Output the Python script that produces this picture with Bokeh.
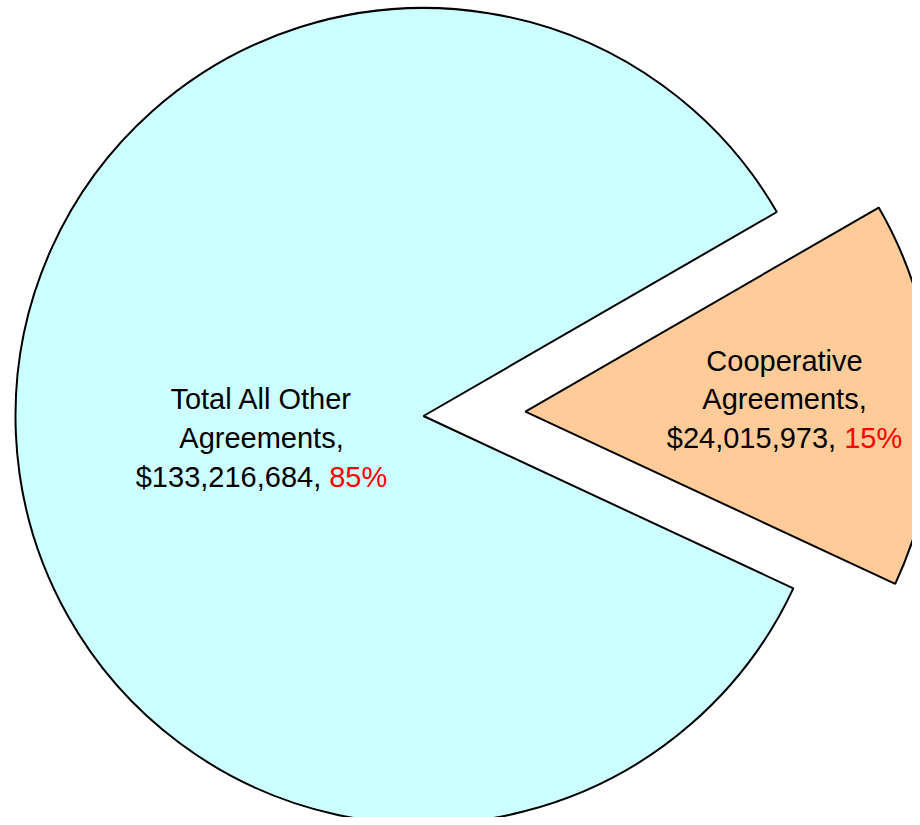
import math
from bokeh.plotting import figure
from bokeh.models import Range1d, ColumnDataSource
from bokeh.core.properties import value
from bokeh.embed import file_html
from bokeh.resources import INLINE

# ---- data ----
categories = ["Total All Other Agreements", "Cooperative Agreements"]
label_lines = [["Total All Other", "Agreements,"], ["Cooperative", "Agreements,"]]
amounts = [133216684, 24015973]
colors = ["#CCFFFF", "#FFCC99"]

# ---- layout ----
W, H = 912, 817
R = 408
CENTER = (423, 401.5)
EXPLODE = [0, 102]
START_DEG = 30.0
LABEL_X = [261, 784]
LABEL_Y0 = [418.2, 456.8]
LINE_STEP = 38.7
FS = 29
FONT = "Liberation Sans"

total = sum(amounts)
fracs = [a / total for a in amounts]
sweeps = [2 * math.pi * f for f in fracs]

p = figure(width=W, height=H, x_range=Range1d(0, W), y_range=Range1d(0, H),
           output_backend="svg", toolbar_location=None, min_border=0,
           x_axis_location=None, y_axis_location=None)
p.grid.visible = False
p.outline_line_color = None
p.background_fill_color = "white"
p.border_fill_color = "white"

xs, ys, ss, es = [], [], [], []
a = math.radians(START_DEG)
for i in range(len(amounts)):
    s = a
    e = a + sweeps[i]
    mid = (s + e) / 2
    xs.append(CENTER[0] + EXPLODE[i] * math.cos(mid))
    ys.append(CENTER[1] + EXPLODE[i] * math.sin(mid))
    ss.append(s)
    es.append(e)
    a = e

src = ColumnDataSource(dict(x=xs, y=ys, s=ss, e=es, color=colors))
p.wedge(x="x", y="y", radius=R, start_angle="s", end_angle="e",
        fill_color="color", line_color="black", line_width=2, source=src)

# Arial / Liberation Sans advance widths (per em)
CW = {"$": 0.556, ",": 0.278, " ": 0.278, "%": 0.889}
for d in "0123456789":
    CW[d] = 0.556

def width(t):
    return sum(CW.get(c, 0.556) for c in t) * FS

for i in range(len(amounts)):
    cx = LABEL_X[i]
    y = LABEL_Y0[i]
    for line in label_lines[i]:
        p.text(x=[cx], y=[y], text=[line], text_align="center", text_baseline="alphabetic",
               text_font=value(FONT), text_font_size=f"{FS}px", text_color="black")
        y -= LINE_STEP
    pct = round(fracs[i] * 100)
    black = f"${amounts[i]:,}, "
    red = f"{pct}%"
    wb, wr = width(black), width(red)
    x0 = cx - (wb + wr) / 2
    p.text(x=[x0], y=[y], text=[black], text_align="left", text_baseline="alphabetic",
           text_font=value(FONT), text_font_size=f"{FS}px", text_color="black")
    p.text(x=[x0 + wb], y=[y], text=[red], text_align="left", text_baseline="alphabetic",
           text_font=value(FONT), text_font_size=f"{FS}px", text_color="#FF0000")

open("out.html", "w").write(file_html(p, INLINE))
